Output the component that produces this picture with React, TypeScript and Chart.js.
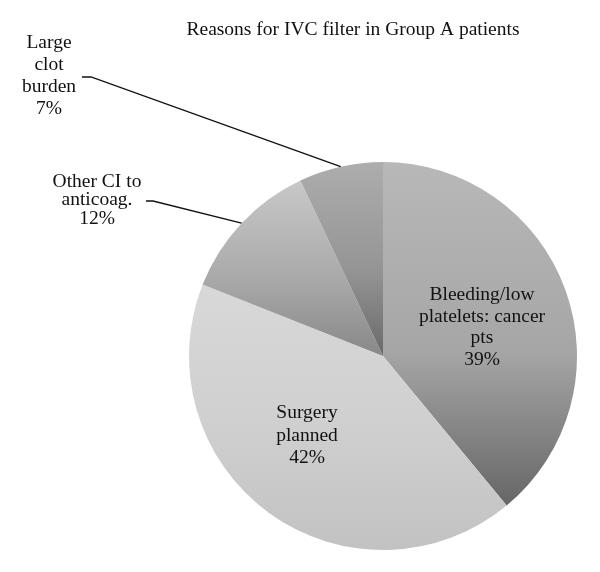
import React, { useEffect, useRef } from "react";
import { Chart, registerables } from "chart.js";

Chart.register(...registerables);

const titleText = "Reasons for IVC filter in Group A patients";
const categories = ["Bleeding/low platelets: cancer pts", "Surgery planned", "Other CI to anticoag.", "Large clot burden"];
const percents = [39, 42, 12, 7];
const labelLines = [
  ["Bleeding/low", "platelets: cancer", "pts", "39%"],
  ["Surgery", "planned", "42%"],
  ["Other CI to", "anticoag.", "12%"],
  ["Large", "clot", "burden", "7%"],
];
const gradTop = ["#b8b8b8", "#d8d8d8", "#c8c8c8", "#adadad"];
const gradMid = ["#a6a6a6", "#cfcfcf", "#aaaaaa", "#959595"];
const gradBottom = ["#666666", "#c2c2c2", "#888888", "#6a6a6a"];

const FONT = "19.5px 'Liberation Serif', 'DejaVu Serif', serif";

function sliceAngles(i: number) {
  const total = percents.reduce((a, b) => a + b, 0);
  let start = -Math.PI / 2;
  for (let k = 0; k < i; k++) start += (percents[k] / total) * Math.PI * 2;
  const end = start + (percents[i] / total) * Math.PI * 2;
  return [start, end];
}

function sliceYExtent(i: number, cy: number, r: number) {
  const [s, e] = sliceAngles(i);
  const ys = [cy, cy + r * Math.sin(s), cy + r * Math.sin(e)];
  const norm = (a: number) => ((a % (2 * Math.PI)) + 2 * Math.PI) % (2 * Math.PI);
  const contains = (a: number) => {
    const ns = norm(s);
    const span = e - s;
    const d = norm(a - ns);
    return d <= span;
  };
  if (contains(Math.PI / 2)) ys.push(cy + r);
  if (contains(-Math.PI / 2)) ys.push(cy - r);
  return [Math.min(...ys), Math.max(...ys)];
}

const labelPlugin = {
  id: "labelPlugin",
  afterDraw(chart: any) {
    const ctx = chart.ctx;
    const meta = chart.getDatasetMeta(0);
    ctx.save();
    ctx.fillStyle = "#111";
    ctx.font = FONT;
    ctx.textAlign = "center";
    ctx.textBaseline = "middle";
    ctx.fillText(titleText, 353, 30);

    const drawLines = (lines: string[], x: number, y0: number, lh: number) => {
      lines.forEach((t, k) => ctx.fillText(t, x, y0 + k * lh));
    };
    const arc0 = meta.data[0];
    const cx = arc0.x;
    const cy = arc0.y;
    // inside labels
    drawLines(labelLines[0], cx + 99, cy - 61, 21.5);
    drawLines(labelLines[1], cx - 76, cy + 57, 22.5);
    // outside labels
    drawLines(labelLines[2], 97, 182, 18.3);
    drawLines(labelLines[3], 49, 43, 22);

    ctx.strokeStyle = "#111";
    ctx.lineWidth = 1.3;
    const leader = (i: number, x0: number, x1: number, y: number) => {
      const a = meta.data[i];
      const mid = (a.startAngle + a.endAngle) / 2;
      const px = a.x + a.outerRadius * Math.cos(mid);
      const py = a.y + a.outerRadius * Math.sin(mid);
      ctx.beginPath();
      ctx.moveTo(x0, y);
      ctx.lineTo(x1, y);
      ctx.lineTo(px, py);
      ctx.stroke();
    };
    leader(2, 146, 153, 201);
    leader(3, 82, 91, 77);
    ctx.restore();
  },
};

export default function App() {
  const ref = useRef<HTMLCanvasElement>(null);
  useEffect(() => {
    if (!ref.current) return;
    const chart = new Chart(ref.current, {
      type: "pie",
      data: {
        labels: categories,
        datasets: [
          {
            data: percents,
            borderWidth: 0,
            backgroundColor: (c: any) => {
              const ch = c.chart;
              const area = ch.chartArea;
              const i = c.dataIndex ?? 0;
              if (!area) return gradTop[i];
              const cy = (area.top + area.bottom) / 2;
              const r = Math.min(area.right - area.left, area.bottom - area.top) / 2;
              const [y0, y1] = sliceYExtent(i, cy, r);
              const g = ch.ctx.createLinearGradient(0, y0, 0, y1);
              g.addColorStop(0, gradTop[i]);
              g.addColorStop(0.55, gradMid[i]);
              g.addColorStop(1, gradBottom[i]);
              return g;
            },
          },
        ],
      },
      options: {
        responsive: false,
        animation: false,
        rotation: 0,
        layout: { padding: { left: 189, right: 23, top: 162, bottom: 22 } },
        plugins: {
          legend: { display: false },
          tooltip: { enabled: false },
          title: { display: false },
        },
      },
      plugins: [labelPlugin],
    });
    return () => chart.destroy();
  }, []);
  return (
    <div style={{ position: "absolute", left: 0, top: 0, width: 600, height: 572, background: "#fff" }}>
      <canvas ref={ref} width={600} height={572} />
    </div>
  );
}
